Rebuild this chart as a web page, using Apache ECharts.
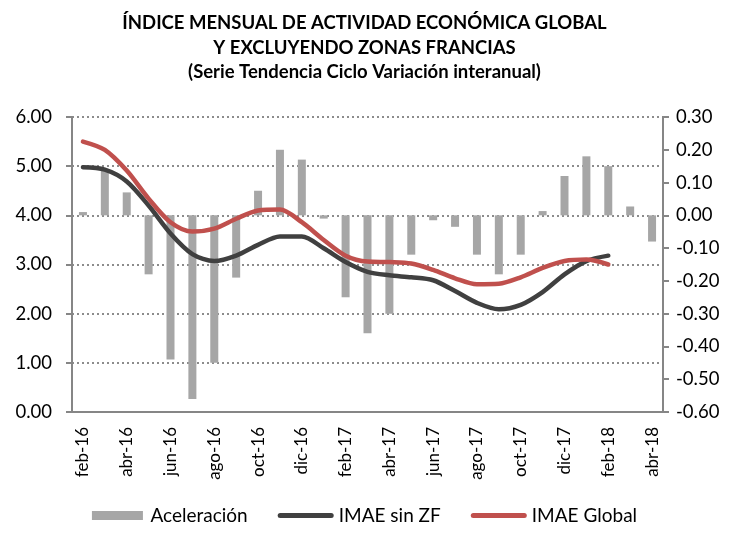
<!DOCTYPE html>
<html>
<head>
<meta charset="utf-8">
<script src="https://cdn.jsdelivr.net/npm/echarts@6/dist/echarts.min.js"></script>
<style>
  html, body { margin: 0; padding: 0; background: #fff; }
  #chart { width: 729px; height: 533px; }
</style>
</head>
<body>
<div id="chart"></div>
<script>
// meses feb-16 .. abr-18
const months = ['feb-16', 'mar-16', 'abr-16', 'may-16', 'jun-16', 'jul-16', 'ago-16', 'sep-16', 'oct-16', 'nov-16', 'dic-16',
  'ene-17', 'feb-17', 'mar-17', 'abr-17', 'may-17', 'jun-17', 'jul-17', 'ago-17', 'sep-17', 'oct-17', 'nov-17', 'dic-17',
  'ene-18', 'feb-18', 'mar-18', 'abr-18']
// aceleración (eje derecho)
const aceleracion = [0.01, 0.14, 0.07, -0.18, -0.44, -0.56, -0.45, -0.19, 0.075, 0.20, 0.17, -0.01, -0.25, -0.36,
  -0.30, -0.12, -0.015, -0.035, -0.12, -0.18, -0.12, 0.013, 0.12, 0.18, 0.15, 0.027, -0.08]
// IMAE (eje izquierdo)
const imaeSinZF = [4.98, 4.93, 4.69, 4.20, 3.63, 3.21, 3.07, 3.18, 3.40, 3.57, 3.57, 3.33, 3.05, 2.85,
  2.78, 2.74, 2.68, 2.46, 2.22, 2.09, 2.18, 2.44, 2.80, 3.07, 3.18, null, null]
const imaeGlobal = [5.50, 5.33, 4.91, 4.34, 3.86, 3.67, 3.73, 3.93, 4.10, 4.12, 3.86, 3.50, 3.18, 3.06,
  3.05, 3.02, 2.89, 2.72, 2.60, 2.61, 2.74, 2.93, 3.07, 3.10, 3.00, null, null]

const font = 'Lato'
const axisColor = '#868686'
// iconos de leyenda: barra 51x9, línea 56x5
const barIcon = 'path://M0,0 H51 V9 H0 Z'
const lineIcon = 'path://M2.5,0 H53.5 A2.5,2.5 0 0 1 53.5,5 H2.5 A2.5,2.5 0 0 1 2.5,0 Z'
const chart = echarts.init(document.getElementById('chart'))

chart.setOption({
  animation: false,
  textStyle: { fontFamily: font, color: '#000' },
  title: {
    text: 'ÍNDICE MENSUAL DE ACTIVIDAD ECONÓMICA GLOBAL\nY EXCLUYENDO ZONAS FRANCIAS\n(Serie Tendencia Ciclo Variación interanual)',
    left: 'center',
    top: 6,
    textStyle: { fontFamily: font, fontSize: 18.5, fontWeight: 'bold', lineHeight: 24.5, color: '#000' }
  },
  legend: {
    bottom: 3,
    left: 'center',
    itemWidth: 56,
    itemHeight: 9,
    itemGap: 30,
    textStyle: { fontFamily: font, fontSize: 19, color: '#000' },
    data: [
      { name: 'Aceleración', icon: barIcon },
      { name: 'IMAE sin ZF', icon: lineIcon },
      { name: 'IMAE Global', icon: lineIcon }
    ]
  },
  grid: { left: 72, right: 66, top: 117, bottom: 121 },
  xAxis: {
    type: 'category',
    data: months,
    boundaryGap: true,
    axisLine: { lineStyle: { color: axisColor, width: 2 } },
    axisTick: { interval: 1, length: 6, lineStyle: { color: axisColor, width: 2 } },
    axisLabel: { interval: 1, rotate: 90, fontSize: 17, color: '#000', margin: 15 }
  },
  yAxis: [
    {
      type: 'value',
      min: 0, max: 6, interval: 1,
      axisLine: { show: true, lineStyle: { color: axisColor, width: 2 } },
      axisTick: { show: true, length: 6, lineStyle: { color: axisColor, width: 2 } },
      axisLabel: { fontSize: 18.5, color: '#000', margin: 20, formatter: v => v.toFixed(2) },
      splitLine: { lineStyle: { color: '#8c8c8c', type: [2, 3], width: 2 } }
    },
    {
      type: 'value',
      min: -0.6, max: 0.3, interval: 0.1,
      axisLine: { show: true, lineStyle: { color: axisColor, width: 2 } },
      axisTick: { show: true, length: 6, lineStyle: { color: axisColor, width: 2 } },
      axisLabel: { fontSize: 18.5, color: '#000', margin: 13, formatter: v => v.toFixed(2) },
      splitLine: { show: false }
    }
  ],
  series: [
    {
      name: 'Aceleración',
      type: 'bar',
      yAxisIndex: 1,
      barWidth: 8,
      itemStyle: { color: '#a6a6a6' },
      data: aceleracion
    },
    {
      name: 'IMAE sin ZF',
      type: 'line',
      yAxisIndex: 0,
      symbol: 'none',
      smooth: 0.3,
      lineStyle: { color: '#404040', width: 4.5, cap: 'round' },
      itemStyle: { color: '#404040' },
      data: imaeSinZF
    },
    {
      name: 'IMAE Global',
      type: 'line',
      yAxisIndex: 0,
      symbol: 'none',
      smooth: 0.3,
      lineStyle: { color: '#c0504d', width: 4.5, cap: 'round' },
      itemStyle: { color: '#c0504d' },
      data: imaeGlobal
    }
  ]
})
window.addEventListener('resize', chart.resize)
</script>
</body>
</html>
